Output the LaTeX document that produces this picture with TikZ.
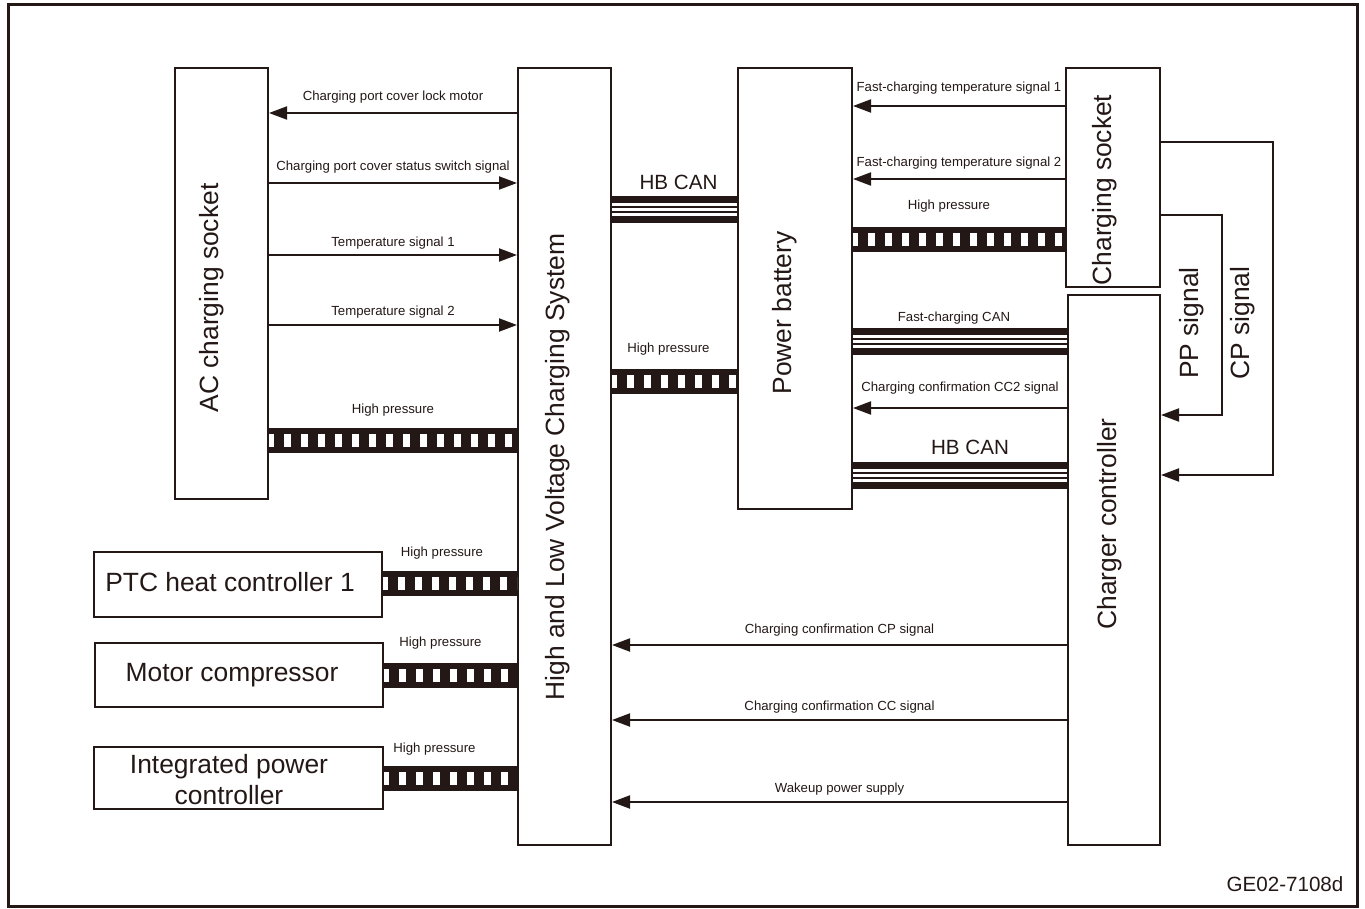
\documentclass[tikz,border=0pt]{standalone}
\usepackage{fontspec}
\setmainfont{Liberation Sans}
\usepackage{tikz}
\usetikzlibrary{arrows.meta, calc}
\usetikzlibrary{positioning}
\definecolor{ink}{RGB}{35,24,21}

\tikzset{
    box/.style={draw=ink, line width=1pt, inner sep=0pt},
    sig/.style={draw=ink, line width=1pt, -{Triangle[length=9pt,width=6.5pt]}},
    lbl/.style={font=\fontsize{6.6}{8}\selectfont, text=ink, inner sep=0pt, outer sep=0pt},
    big/.style={font=\fontsize{13.2}{15.5}\selectfont, text=ink, inner sep=0pt},
    mid/.style={font=\fontsize{10.3}{12}\selectfont, text=ink, inner sep=0pt, outer sep=0pt},
    hpbar/.style={draw=ink, line width=12.5pt,
        postaction={draw=white, line width=6.5pt, dash pattern=on 3.5pt off 5pt, dash phase=1pt}},
    canbus/.style={draw=ink, line width=13.5pt,
        postaction={draw=white, line width=6.5pt},
        postaction={draw=ink, line width=3.5pt},
        postaction={draw=white, line width=1.5pt}},
}

\begin{document}
\begin{tikzpicture}[x=0.5pt, y=-0.5pt]
    \useasboundingbox (0,0) rectangle (1365,909);
    \draw[ink, line width=1.5pt] (8,5) rectangle (1357,906);

    % boxes
    \node[box, minimum width=46.5pt, minimum height=215.5pt] (ac) at (221.5,283.5) {};
    \node[box, minimum width=46.5pt, minimum height=388.5pt] (hlv) at (564.5,456.5) {};
    \node[box, minimum width=57pt, minimum height=220.5pt] (pb) at (795,288.5) {};
    \node[box, minimum width=47pt, minimum height=109.5pt] (cs) at (1113,177.5) {};
    \node[box, minimum width=46pt, minimum height=275pt] (cc) at (1114,570) {};
    \node[box, minimum width=144pt, minimum height=32.5pt] (ptc) at (238,584.5) {};
    \node[box, minimum width=144pt, minimum height=32pt] (mc) at (239,675) {};
    \node[box, minimum width=144.5pt, minimum height=31pt] (ipc) at (238.5,778) {};

    % box texts
    \node[big, rotate=90] (actext) at (212,298) {AC charging socket};
    \node[big, rotate=90] (hlvtext) at (558,467) {High and Low Voltage Charging System};
    \node[big, rotate=90] (pbtext) at (785,313) {Power battery};
    \node[big, rotate=90] (cstext) at (1105,190) {Charging socket};
    \node[big, rotate=90] (cctext) at (1110,524) {Charger controller};
    \node[big] (ptctext) at (230,582) {PTC heat controller 1};
    \node[big] (mctext) at (232,675) {Motor compressor};
    \node[big, align=center] (ipctext) at (229,780) {Integrated power\\controller};
    \node[big, rotate=90] (pptext) at (1192,323) {PP signal};
    \node[big, rotate=90] (cptext) at (1243,323) {CP signal};
    \node[mid] (code) at (1285,884) {GE02-7108d};

    % AC charging socket <-> charging system
    \draw[sig] (hlv.west |- 0,113) -- node[lbl, above=5pt] (l1) {Charging port cover lock motor} (ac.east |- 0,113);
    \draw[sig] (ac.east |- 0,183) -- node[lbl, above=5pt] (l2) {Charging port cover status switch signal} (hlv.west |- 0,183);
    \draw[sig] (ac.east |- 0,255) -- node[lbl, above=3pt] (l3) {Temperature signal 1} (hlv.west |- 0,255);
    \draw[sig] (ac.east |- 0,325) -- node[lbl, above=3.5pt] (l4) {Temperature signal 2} (hlv.west |- 0,325);
    \draw[hpbar] (ac.east |- 0,440) -- node[lbl, above=12pt] (l5) {High pressure} (hlv.west |- 0,440);

    % charging system <-> power battery
    \draw[canbus] (hlv.east |- 0,209.5) -- node[mid, above=10pt, xshift=2pt] (l6) {HB CAN} (pb.west |- 0,209.5);
    \draw[hpbar] (hlv.east |- 0,381) -- node[lbl, above=13pt, xshift=-3pt] (l7) {High pressure} (pb.west |- 0,381);

    % power battery <-> charging socket / charger controller
    \draw[sig] (cs.west |- 0,106) -- node[lbl, above=6pt] (l8) {Fast-charging temperature signal 1} (pb.east |- 0,106);
    \draw[sig] (cs.west |- 0,179) -- node[lbl, above=5pt] (l9) {Fast-charging temperature signal 2} (pb.east |- 0,179);
    \draw[hpbar] (pb.east |- 0,240) -- node[lbl, above=14pt, xshift=-5pt] (l10) {High pressure} (cs.west |- 0,240);
    \draw[canbus] (pb.east |- 0,341) -- node[lbl, above=8.5pt, xshift=-3pt] (l11) {Fast-charging CAN} (cc.west |- 0,341);
    \draw[sig] (cc.west |- 0,408) -- node[lbl, above=7pt] (l12) {Charging confirmation CC2 signal} (pb.east |- 0,408);
    \draw[canbus] (pb.east |- 0,475) -- node[mid, above=10pt, xshift=5pt] (l13) {HB CAN} (cc.west |- 0,475);

    % heaters and controllers
    \draw[hpbar] (ptc.east |- 0,583) -- node[lbl, above=12pt, xshift=-4pt] (l14) {High pressure} (hlv.west |- 0,583);
    \draw[hpbar] (mc.east |- 0,675) -- node[lbl, above=13pt, xshift=-5pt] (l15) {High pressure} (hlv.west |- 0,675);
    \draw[hpbar] (ipc.east |- 0,778) -- node[lbl, above=11.5pt, xshift=-8pt] (l16) {High pressure} (hlv.west |- 0,778);

    % charger controller -> charging system
    \draw[sig] (cc.west |- 0,645) -- node[lbl, above=4.5pt] (l17) {Charging confirmation CP signal} (hlv.east |- 0,645);
    \draw[sig] (cc.west |- 0,720) -- node[lbl, above=3.5pt] (l18) {Charging confirmation CC signal} (hlv.east |- 0,720);
    \draw[sig] (cc.west |- 0,802) -- node[lbl, above=3.5pt] (l19) {Wakeup power supply} (hlv.east |- 0,802);

    % charging socket -> charger controller
    \draw[sig] (cs.east |- 0,215) -| (1222,415) -- (cc.east |- 0,415);
    \draw[sig] (cs.east |- 0,142) -| (1273,475) -- (cc.east |- 0,475);
\end{tikzpicture}
\end{document}
